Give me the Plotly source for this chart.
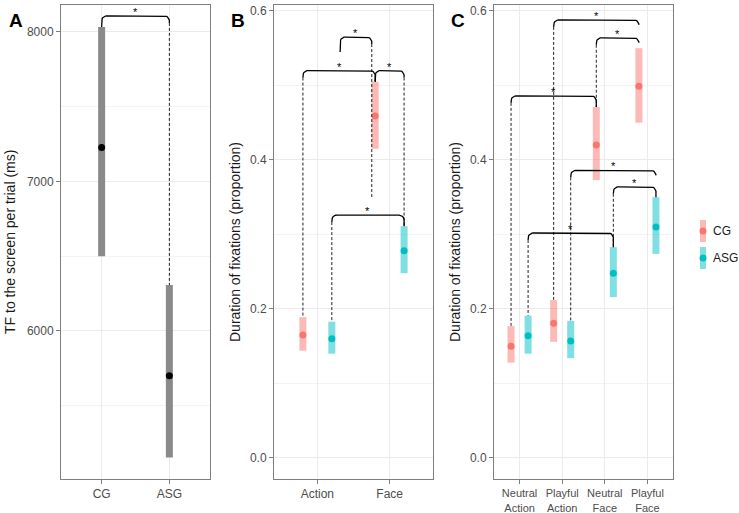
import numpy as np
import plotly.graph_objects as go

# ---------------- data ----------------
# Panel A
a_groups = ["CG", "ASG"]
a_mean = [7227, 5700]
a_lo = [6500, 5153]
a_hi = [8033, 6307]

# Panel B
b_cats = ["Action", "Face"]
b_cg_mean = [0.165, 0.459]
b_cg_lo = [0.144, 0.415]
b_cg_hi = [0.189, 0.505]
b_asg_mean = [0.160, 0.278]
b_asg_lo = [0.140, 0.248]
b_asg_hi = [0.183, 0.311]

# Panel C
c_cats = ["Neutral<br>Action", "Playful<br>Action", "Neutral<br>Face", "Playful<br>Face"]
c_cg_mean = [0.150, 0.181, 0.420, 0.499]
c_cg_lo = [0.128, 0.156, 0.373, 0.450]
c_cg_hi = [0.177, 0.212, 0.471, 0.550]
c_asg_mean = [0.164, 0.157, 0.248, 0.310]
c_asg_lo = [0.140, 0.134, 0.216, 0.274]
c_asg_hi = [0.191, 0.184, 0.283, 0.350]

groups = ["CG", "ASG"]
dodge = {"CG": -0.2, "ASG": 0.2}

# ---------------- layout geometry ----------------
W, H = 739, 513

FONT = "Liberation Sans, Arial, sans-serif"
CG_COL, ASG_COL = "#F8766D", "#00BFC4"
CG_BAR, ASG_BAR = "rgba(248,118,109,0.5)", "rgba(0,191,196,0.5)"


def px_(x):
    return x / W


def py(y):
    return 1 - y / H


top_px, bot_px = 5, 479
panels = {
    "A": dict(x0=61, x1=210, xr=[0.4, 2.6], yr=[5010, 8180]),
    "B": dict(x0=274, x1=433, xr=[0.4, 2.6], yr=[-0.0282, 0.608]),
    "C": dict(x0=494, x1=673, xr=[0.4, 4.6], yr=[-0.0282, 0.608]),
}
for p in panels.values():
    p["xpx"] = (p["x1"] - p["x0"]) / (p["xr"][1] - p["xr"][0])
    p["ypx"] = (bot_px - top_px) / (p["yr"][1] - p["yr"][0])

fig = go.Figure()
axmap = {"A": ("x", "y"), "B": ("x2", "y2"), "C": ("x3", "y3")}


def rng_trace(xs, lo, hi, color, width, ax):
    X, Y = [], []
    for x, l, h in zip(xs, lo, hi):
        X += [x, x, None]
        Y += [l, h, None]
    fig.add_trace(go.Scatter(x=X, y=Y, mode="lines", line=dict(color=color, width=width),
                             xaxis=ax[0], yaxis=ax[1], showlegend=False, hoverinfo="skip"))


def dot_trace(xs, ys, color, size, ax):
    fig.add_trace(go.Scatter(x=xs, y=ys, mode="markers", marker=dict(color=color, size=size),
                             xaxis=ax[0], yaxis=ax[1], showlegend=False))


# Panel A
axA = axmap["A"]
xa = list(range(1, len(a_groups) + 1))
rng_trace(xa, a_lo, a_hi, "#8a8a8a", 7, axA)
dot_trace(xa, a_mean, "black", 7, axA)

# Panel B
axB = axmap["B"]
xb = np.arange(1, len(b_cats) + 1)
rng_trace(list(xb + dodge["CG"]), b_cg_lo, b_cg_hi, CG_BAR, 7, axB)
rng_trace(list(xb + dodge["ASG"]), b_asg_lo, b_asg_hi, ASG_BAR, 7, axB)
dot_trace(list(xb + dodge["CG"]), b_cg_mean, CG_COL, 7, axB)
dot_trace(list(xb + dodge["ASG"]), b_asg_mean, ASG_COL, 7, axB)

# Panel C
axC = axmap["C"]
xc = np.arange(1, len(c_cats) + 1)
rng_trace(list(xc + dodge["CG"]), c_cg_lo, c_cg_hi, CG_BAR, 7, axC)
rng_trace(list(xc + dodge["ASG"]), c_asg_lo, c_asg_hi, ASG_BAR, 7, axC)
dot_trace(list(xc + dodge["CG"]), c_cg_mean, CG_COL, 7, axC)
dot_trace(list(xc + dodge["ASG"]), c_asg_mean, ASG_COL, 7, axC)

# ---------------- significance brackets ----------------
annotations = []


def bracket(panel, x1, x2, y, e1, e2):
    p = panels[panel]
    ax = axmap[panel]
    r = 5.0
    rx, ry = r / p["xpx"], r / p["ypx"]
    th1 = np.linspace(np.pi, np.pi / 2, 8)
    th2 = np.linspace(np.pi / 2, 0, 8)
    xs = list(x1 + rx + rx * np.cos(th1)) + list(x2 - rx + rx * np.cos(th2))
    ys = list(y - ry + ry * np.sin(th1)) + list(y - ry + ry * np.sin(th2))
    ybot = y - ry
    dashed = []
    stub = 2.0 / p["ypx"]
    for side, (xx, e) in enumerate([(x1, e1), (x2, e2)]):
        if e is None:
            continue
        gap = (ybot - e) * p["ypx"]
        if gap <= 13:
            end = e
        else:
            end = ybot - stub
            dashed.append((xx, end, e))
        if side == 0:
            xs = [xx] + xs
            ys = [end] + ys
        else:
            xs = xs + [xx]
            ys = ys + [end]
    fig.add_trace(go.Scatter(x=xs, y=ys, mode="lines", line=dict(color="black", width=1.3),
                             xaxis=ax[0], yaxis=ax[1], showlegend=False, hoverinfo="skip"))
    for xx, ya, yb in dashed:
        fig.add_trace(go.Scatter(x=[xx, xx], y=[ya, yb], mode="lines",
                                 line=dict(color="#222222", width=1, dash="3px,2px"),
                                 xaxis=ax[0], yaxis=ax[1], showlegend=False, hoverinfo="skip"))
    annotations.append(dict(x=(x1 + x2) / 2, y=y, xref=ax[0], yref=ax[1], text="*", showarrow=False,
                            font=dict(size=11, color="black", family=FONT), yanchor="middle", yshift=4))


# A: CG vs ASG
bracket("A", xa[0], xa[1], 8107, a_hi[0], a_hi[1])

# B
bx = lambda cat, g: (cat + 1) + dodge[g]
bracket("B", 1.315, 1.753, 0.565, 0.545, 0.350)
bracket("B", bx(0, "CG"), bx(1, "CG"), 0.520, b_cg_hi[0], b_cg_hi[1])
bracket("B", bx(1, "CG"), bx(1, "ASG"), 0.520, b_cg_hi[1], b_asg_hi[1])
bracket("B", bx(0, "ASG"), bx(1, "ASG"), 0.326, b_asg_hi[0], b_asg_hi[1])

# C
cx = bx
bracket("C", cx(1, "CG"), cx(3, "CG"), 0.588, c_cg_hi[1], None)
bracket("C", cx(2, "CG"), cx(3, "CG"), 0.564, c_cg_hi[2], None)
bracket("C", cx(0, "CG"), cx(2, "CG"), 0.486, c_cg_hi[0], c_cg_hi[2])
bracket("C", cx(1, "ASG"), cx(3, "ASG"), 0.386, c_asg_hi[1], None)
bracket("C", cx(2, "ASG"), cx(3, "ASG"), 0.364, c_asg_hi[2], c_asg_hi[3])
bracket("C", cx(0, "ASG"), cx(2, "ASG"), 0.302, c_asg_hi[0], c_asg_hi[2])

# ---------------- axes ----------------
ydom = [py(bot_px), py(top_px)]
common = dict(showline=True, mirror=True, linecolor="#7f7f7f", linewidth=1,
              ticks="outside", ticklen=4, tickcolor="#7f7f7f", tickwidth=1,
              tickfont=dict(size=12, color="#4d4d4d", family=FONT),
              showgrid=True, gridcolor="#ebebeb", gridwidth=1, zeroline=False, fixedrange=True,
              automargin=False)

layout_axes = {}
for i, (key, tickvals, ticktext, ytickvals, yticktext, yminor, xfs) in enumerate([
    ("A", xa, a_groups, [6000, 7000, 8000], ["6000", "7000", "8000"], [5500, 6500, 7500], 12),
    ("B", list(xb), b_cats, [0.0, 0.2, 0.4, 0.6], ["0.0", "0.2", "0.4", "0.6"], [0.1, 0.3, 0.5], 12),
    ("C", list(xc), c_cats, [0.0, 0.2, 0.4, 0.6], ["0.0", "0.2", "0.4", "0.6"], [0.1, 0.3, 0.5], 11),
]):
    p = panels[key]
    n = "" if i == 0 else str(i + 1)
    layout_axes["xaxis" + n] = dict(common, domain=[px_(p["x0"]), px_(p["x1"])], range=p["xr"],
                                    anchor="y" + n, tickvals=tickvals, ticktext=ticktext,
                                    tickfont=dict(size=xfs, color="#4d4d4d", family=FONT))
    layout_axes["yaxis" + n] = dict(common, domain=ydom, range=p["yr"], anchor="x" + n,
                                    tickvals=ytickvals, ticktext=yticktext,
                                    minor=dict(tickvals=yminor, showgrid=True, gridcolor="#f3f3f3",
                                               gridwidth=0.6, ticks=""))

ymid = py((top_px + bot_px) / 2)
for xpos, txt in [(10, "TF to the screen per trial (ms)"),
                  (235, "Duration of fixations (proportion)"),
                  (455, "Duration of fixations (proportion)")]:
    annotations.append(dict(x=px_(xpos), y=ymid, xref="paper", yref="paper", text=txt, textangle=-90,
                            showarrow=False, font=dict(size=14, color="#1a1a1a", family=FONT),
                            xanchor="center", yanchor="middle"))
for xpos, txt in [(16, "A"), (238, "B"), (458, "C")]:
    annotations.append(dict(x=px_(xpos), y=py(20), xref="paper", yref="paper", text="<b>%s</b>" % txt,
                            showarrow=False, font=dict(size=19, color="black", family=FONT),
                            xanchor="center", yanchor="middle"))

# legend (drawn manually: pointrange glyph)
shapes = []
for gname, bar_col, dot_col, cy in [(groups[0], CG_BAR, CG_COL, 231), (groups[1], ASG_BAR, ASG_COL, 258)]:
    shapes.append(dict(type="rect", xref="paper", yref="paper", x0=px_(700), x1=px_(706),
                       y0=py(cy + 11), y1=py(cy - 11), fillcolor=bar_col, line=dict(width=0)))
    shapes.append(dict(type="circle", xref="paper", yref="paper", x0=px_(699.5), x1=px_(706.5),
                       y0=py(cy + 3.5), y1=py(cy - 3.5), fillcolor=dot_col, line=dict(width=0)))
    annotations.append(dict(x=px_(711), y=py(cy), xref="paper", yref="paper", text=gname, showarrow=False,
                            font=dict(size=12, color="#1a1a1a", family=FONT), xanchor="left", yanchor="middle"))

fig.update_layout(width=W, height=H, margin=dict(l=0, r=0, t=0, b=0),
                  paper_bgcolor="white", plot_bgcolor="white", showlegend=False,
                  annotations=annotations, shapes=shapes, font=dict(family=FONT), **layout_axes)

# remove the browser's default 8px page margin so the 739x513 figure fills the window
fig.write_html("out.html", config={"displayModeBar": False},
               post_script="document.body.style.margin='0';document.body.style.overflow='hidden';")
